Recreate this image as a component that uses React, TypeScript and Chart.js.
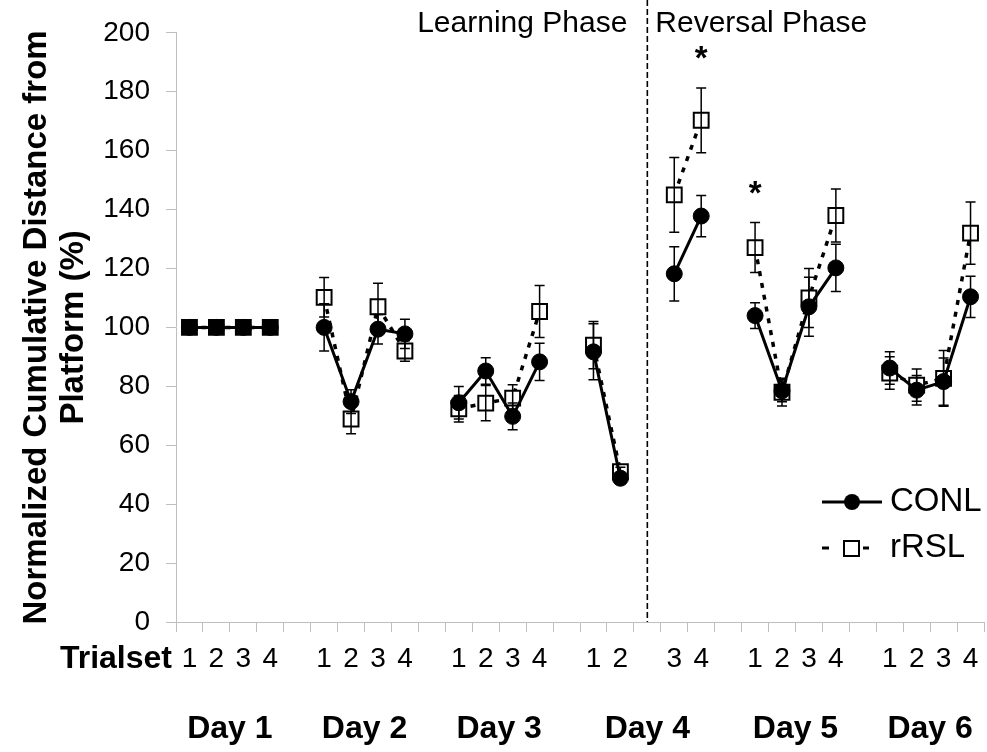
import { useEffect, useRef } from 'react';
import { Chart, registerables } from 'chart.js';

Chart.register(...registerables);

// ---- data ----
const trialLabels = [
  '1', '2', '3', '4', '',
  '1', '2', '3', '4', '',
  '1', '2', '3', '4', '',
  '1', '2', '', '3', '4', '',
  '1', '2', '3', '4', '',
  '1', '2', '3', '4',
];
const dayLabels = ['Day 1', 'Day 2', 'Day 3', 'Day 4', 'Day 5', 'Day 6'];
const dayFirstIndex = [0, 5, 10, 15, 21, 26];
const dayLastIndex = [3, 8, 13, 19, 24, 29];

const conlMeans = [
  100, 100, 100, 100, null,
  100, 74.8, 99.4, 97.8, null,
  74.4, 85.2, 69.8, 88.3, null,
  91.7, 48.8, null, 118.2, 137.8, null,
  104, 78.5, 107, 120.2, null,
  86.2, 78.7, 81.6, 110.4,
];
const conlErrors = [
  0, 0, 0, 0, null,
  8, 4, 5, 5, null,
  5.5, 4.5, 4.5, 6.3, null,
  9.5, 1.5, null, 9.2, 7, null,
  4.4, 3.7, 10, 8, null,
  5.5, 5, 8, 7,
];
const rrslMeans = [
  100, 100, 100, 100, null,
  110.2, 68.9, 107, 92, null,
  72.4, 74.3, 76, 105.4, null,
  94, 51, null, 145, 170.3, null,
  127.1, 78, 110, 138, null,
  84.5, 80.4, 82.7, 132,
];
const rrslErrors = [
  0, 0, 0, 0, null,
  6.7, 5, 8, 3.5, null,
  4.5, 6, 4.5, 8.8, null,
  8, 1.5, null, 12.7, 11, null,
  8.5, 4.7, 10, 9, null,
  5.5, 5.5, 9.5, 10.6,
];
const significantIndices = [19, 21];
const phaseSplitIndex = 17;
const phaseLabels = ['Learning Phase', 'Reversal Phase'];
const seriesNames = ['CONL', 'rRSL'];
const yTitleLines = ['Normalized Cumulative Distance from', 'Platform (%)'];
const xLeadLabel = 'Trialset';
const yMin = 0;
const yMax = 200;
const yStep = 20;

const FONT = '"Liberation Sans", Arial, Helvetica, sans-serif';
const AXIS_GRAY = '#bfbfbf';

const overlayPlugin = {
  id: 'overlay',
  afterDatasetsDraw(chart: any) {
    const { ctx, chartArea, scales } = chart;
    const x = scales.x;
    const y = scales.y;
    ctx.save();
    // error bars
    ctx.strokeStyle = '#000';
    ctx.lineWidth = 1.5;
    ctx.setLineDash([]);
    const series: [Array<number | null>, Array<number | null>][] = [
      [conlMeans, conlErrors],
      [rrslMeans, rrslErrors],
    ];
    series.forEach(([vals, errs]) => {
      vals.forEach((v, i) => {
        const e = errs[i];
        if (v == null || !e) return;
        const px = x.getPixelForValue(i);
        const top = y.getPixelForValue(v + e);
        const bot = y.getPixelForValue(v - e);
        ctx.beginPath();
        ctx.moveTo(px, top);
        ctx.lineTo(px, bot);
        ctx.moveTo(px - 5, top);
        ctx.lineTo(px + 5, top);
        ctx.moveTo(px - 5, bot);
        ctx.lineTo(px + 5, bot);
        ctx.stroke();
      });
    });

    // significance asterisks
    ctx.fillStyle = '#000';
    ctx.font = `bold 33px ${FONT}`;
    ctx.textAlign = 'center';
    ctx.textBaseline = 'middle';
    significantIndices.forEach((i) => {
      const v = rrslMeans[i] as number;
      const e = (rrslErrors[i] as number) || 0;
      const px = x.getPixelForValue(i);
      const py = y.getPixelForValue(v + e) - 28;
      ctx.fillText('*', px, py);
    });

    // phase divider
    const dx = x.getPixelForValue(phaseSplitIndex);
    ctx.strokeStyle = '#000';
    ctx.lineWidth = 1.6;
    ctx.setLineDash([6, 3]);
    ctx.beginPath();
    ctx.moveTo(dx, 0);
    ctx.lineTo(dx, chartArea.bottom);
    ctx.stroke();
    ctx.setLineDash([]);

    // phase labels
    ctx.font = `30px ${FONT}`;
    ctx.textBaseline = 'alphabetic';
    ctx.textAlign = 'right';
    ctx.fillText(phaseLabels[0], dx - 20, 32);
    ctx.textAlign = 'left';
    ctx.fillText(phaseLabels[1], dx + 8, 32);

    // Trialset label
    ctx.font = `bold 32px ${FONT}`;
    ctx.textAlign = 'right';
    ctx.textBaseline = 'middle';
    ctx.fillText(xLeadLabel, chartArea.left - 4, chartArea.bottom + 37);

    // Day labels
    ctx.textAlign = 'center';
    dayLabels.forEach((d, k) => {
      const cx = (x.getPixelForValue(dayFirstIndex[k]) + x.getPixelForValue(dayLastIndex[k])) / 2;
      ctx.fillText(d, cx, chartArea.bottom + 107);
    });

    // legend
    const lx = chartArea.right - 162;
    const ly1 = chartArea.bottom - 120;
    const ly2 = chartArea.bottom - 74;
    ctx.strokeStyle = '#000';
    ctx.lineWidth = 3;
    ctx.beginPath();
    ctx.moveTo(lx, ly1);
    ctx.lineTo(lx + 60, ly1);
    ctx.stroke();
    ctx.beginPath();
    ctx.arc(lx + 30, ly1, 8, 0, Math.PI * 2);
    ctx.fill();
    ctx.lineWidth = 3;
    ctx.beginPath();
    ctx.moveTo(lx, ly2);
    ctx.lineTo(lx + 7, ly2);
    ctx.moveTo(lx + 41, ly2);
    ctx.lineTo(lx + 47, ly2);
    ctx.stroke();
    ctx.lineWidth = 2;
    ctx.fillStyle = '#fff';
    ctx.fillRect(lx + 22, ly2 - 7, 15, 15);
    ctx.strokeRect(lx + 22, ly2 - 7, 15, 15);
    ctx.fillStyle = '#000';
    ctx.font = `33px ${FONT}`;
    ctx.textAlign = 'left';
    ctx.textBaseline = 'middle';
    ctx.fillText(seriesNames[0], lx + 68, ly1);
    ctx.fillText(seriesNames[1], lx + 68, ly2);
    ctx.restore();
  },
};

export default function App() {
  const canvasRef = useRef<HTMLCanvasElement | null>(null);

  useEffect(() => {
    const canvas = canvasRef.current;
    if (!canvas) return;
    const day1Last = dayLastIndex[0];
    const chart = new Chart(canvas, {
      type: 'line',
      data: {
        labels: trialLabels,
        datasets: [
          {
            label: seriesNames[0],
            data: conlMeans,
            borderColor: '#000',
            backgroundColor: '#000',
            borderWidth: 3,
            pointStyle: 'circle',
            pointRadius: 8,
            pointBorderWidth: 1,
            pointBackgroundColor: '#000',
            pointBorderColor: '#000',
            spanGaps: false,
            tension: 0,
          },
          {
            label: seriesNames[1],
            data: rrslMeans,
            borderColor: '#000',
            backgroundColor: '#fff',
            borderWidth: 3.5,
            borderDash: [5, 7],
            pointStyle: 'rect',
            pointRadius: 10.5,
            pointBorderWidth: 2,
            pointBackgroundColor: (c: any) => (c.dataIndex <= day1Last ? '#000' : '#fff'),
            pointBorderColor: '#000',
            spanGaps: false,
            tension: 0,
          },
        ],
      },
      options: {
        responsive: false,
        animation: false,
        devicePixelRatio: 1,
        events: [],
        layout: { autoPadding: false, padding: { top: 32, right: 3, left: 0, bottom: 0 } },
        plugins: {
          legend: { display: false },
          tooltip: { enabled: false },
          title: { display: false },
        },
        scales: {
          x: {
            type: 'category',
            offset: true,
            grid: {
              offset: true,
              drawOnChartArea: false,
              drawTicks: true,
              tickLength: 10,
              color: AXIS_GRAY,
            },
            border: { display: true, color: AXIS_GRAY, width: 1 },
            ticks: {
              autoSkip: false,
              maxRotation: 0,
              minRotation: 0,
              padding: 10,
              color: '#000',
              font: { family: FONT, size: 28 },
            },
            afterFit: (s: any) => {
              s.height = 130;
              s.paddingRight = 0;
              s.paddingLeft = 0;
            },
          },
          y: {
            min: yMin,
            max: yMax,
            grid: {
              drawOnChartArea: false,
              drawTicks: true,
              tickLength: 10,
              color: AXIS_GRAY,
            },
            border: { display: true, color: AXIS_GRAY, width: 1 },
            ticks: {
              stepSize: yStep,
              padding: 16,
              color: '#000',
              font: { family: FONT, size: 28 },
            },
            title: {
              display: true,
              text: yTitleLines,
              color: '#000',
              font: { family: FONT, size: 33, weight: 'bold', lineHeight: 1.1 },
              padding: { top: 19, bottom: 0 },
            },
            afterFit: (s: any) => {
              s.width = 176;
            },
          },
        },
      },
      plugins: [overlayPlugin],
    } as any);
    return () => chart.destroy();
  }, []);

  return (
    <div style={{ position: 'absolute', left: 0, top: 0, width: 987, height: 752, background: '#fff' }}>
      <canvas ref={canvasRef} width={987} height={752} />
    </div>
  );
}
